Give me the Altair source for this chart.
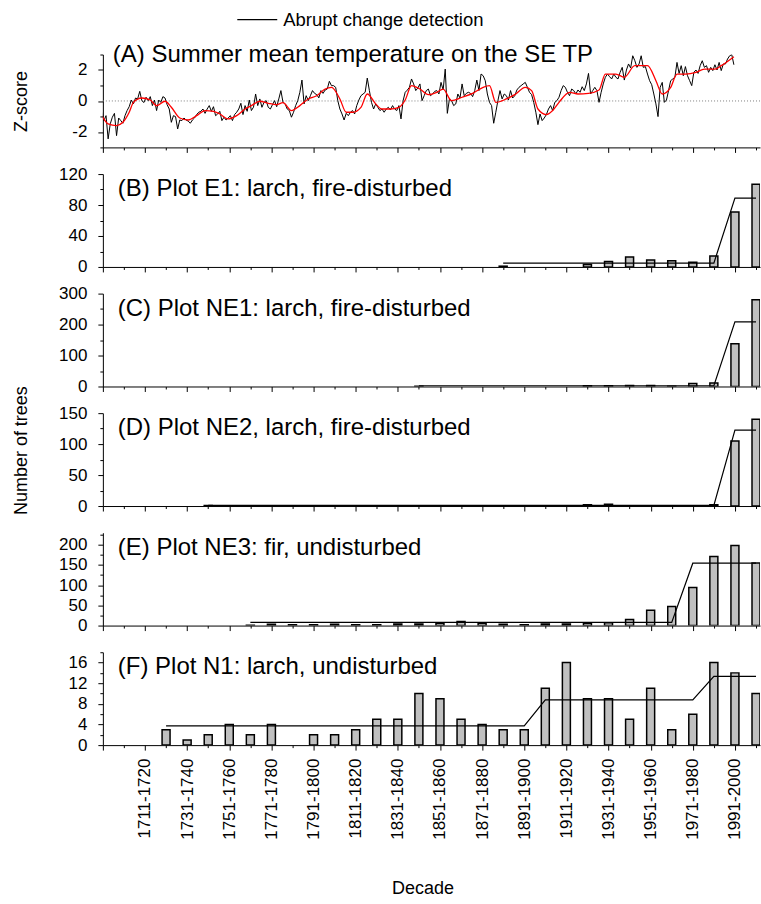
import json
import altair as alt
import pandas as pd

FONT = "Liberation Sans"
W, H = 658, 93
GAP = 26.7

# ---------------- categories / tick labels ----------------
axis_decades = ["1691-1700", "1701-1710"]  # empty decades at the left of the axis
decades = ["1711-1720", "1721-1730", "1731-1740", "1741-1750", "1751-1760",
           "1761-1770", "1771-1780", "1781-1790", "1791-1800", "1801-1810",
           "1811-1820", "1821-1830", "1831-1840", "1841-1850", "1851-1860",
           "1861-1870", "1871-1880", "1881-1890", "1891-1900", "1901-1910",
           "1911-1920", "1921-1930", "1931-1940", "1941-1950", "1951-1960",
           "1961-1970", "1971-1980", "1981-1990", "1991-2000", "2001-2010"]
tick_labels = ["1711-1720", "1731-1740", "1751-1760", "1771-1780", "1791-1800",
               "1811-1820", "1831-1840", "1851-1860", "1871-1880", "1891-1900",
               "1911-1920", "1931-1940", "1951-1960", "1971-1980", "1991-2000"]

# ---------------- panel A: summer temperature z-scores ----------------
temp_start_year = 1695
temp_z = [
    -0.73, -1.27, -0.95, -2.45, -1.48, -1.05, -0.80, -2.24, -1.10, -1.27,
    -1.44, -0.95, -0.62, -0.37, 0.06, -0.19, 0.19, 0.13, 0.62, 0.02, -0.10,
    0.24, 0.02, 0.28, -0.30, 0.06, -0.62, 0.06, -0.09, 0.28, 0.19,
    -0.24, -0.52, -1.38, -0.95, -1.01, -1.81, -1.23, -1.27, -1.10, -1.23, -1.30,
    -1.44, -1.23, -1.10, -0.88, -0.73, -0.67, -0.52, -0.80, -0.52, -0.30,
    -0.67, -0.37, -0.95, -0.84, -0.67, -1.27, -1.05, -1.23, -1.10, -0.95,
    -1.27, -0.88, -0.73, -0.52, -0.15, -0.88, -0.30, -0.67, 0.06, -0.62, -0.40,
    0.45, -0.30, 0.13, -0.41, -0.09, 0.02, -0.41, -0.52, -0.24, 0.02,
    -0.37, 0.13, 0.67, -0.09, -0.19, -0.52, -0.62, -1.05, -0.73, -0.30,
    0.02, 0.56, 1.35, -0.19, 0.34, 0.02, 0.34, 0.67, 0.49, 0.41, 0.20,
    0.67, 0.49, 0.71, 0.77, 1.27, 0.99, 0.99, 0.88, 0.02, -0.52,
    -0.84, -1.23, -0.80, -0.95, -0.73, -0.62, -0.84, -0.30, 0.06, 0.34, 0.45,
    0.56, 1.48, 0.67, -0.09, -0.52, -0.19, -0.41, -0.62, -0.52, -0.73,
    -0.52, -0.41, -0.58, -0.30, -0.52, -0.62, -0.30, -1.16, 0.02, 0.56, 0.70,
    0.88, 1.42, 1.10, 0.67, 0.84, 1.10, 0.02, 0.34, 0.67, 0.77,
    0.34, 0.45, 0.62, 0.67,
    0.45, 1.20, 0.71, 2.06, -0.80, 0.13, 0.02, -0.30, -0.19, 0.45,
    0.19, 1.10, 0.34, 0.49, 0.56, 0.49, 0.28, 0.67, 1.35,
    0.67, 1.74, 1.63, 1.31, 0.45, -0.09, -0.30, -1.44, -0.73, 0.02,
    0.67, 0.13, 0.45, 0.34, 0.06, 0.67, 0.19, 0.34, 0.71, 0.88,
    0.99, 1.10, 1.20, 0.88, 0.56, 0.41, -0.09, -0.73, -1.53, -0.84,
    -1.27, -1.10, -0.88, -0.52, -0.30, -0.62, -0.09, 0.02, 0.24, 0.67,
    0.99, 0.88, 0.56, 0.34, 0.77, 0.67, 0.45, 0.71, 0.56,
    0.92, 0.67, 1.10, 1.78, 0.45, 0.67, 0.88, 0.67, -0.09, 0.56,
    1.10, 1.53, 1.74, 1.57, 1.42, 1.74, 1.53, 1.42, 1.85, 2.17,
    1.35, 2.00, 2.39, 2.13, 2.92, 2.60, 2.17, 2.39, 2.92, 2.17,
    2.22, 1.74, 1.31, 1.05, 0.45, -0.19, -1.01, 0.88, 1.20, -0.09,
    0.06, 0.67, 1.31, 1.42, 1.53, 2.49, 1.78, 2.28, 1.63, 2.22,
    1.63, 1.31, 0.99, 1.85, 2.00, 1.78, 2.28, 2.60, 2.17, 2.28,
    1.85, 2.17, 1.96, 2.34, 2.00, 2.49, 1.96, 2.39, 2.39, 2.71,
    2.92, 2.99, 2.34,
]
smooth_years = [1695, 1698, 1702, 1705, 1708, 1710, 1714, 1718, 1721, 1725, 1728,
                1732, 1736, 1740, 1744, 1748, 1751, 1755, 1759, 1763, 1766, 1770,
                1774, 1778, 1781, 1785, 1789, 1793, 1797, 1801, 1804, 1808, 1811,
                1814, 1818, 1821, 1825, 1828, 1832, 1836, 1839, 1842, 1846, 1850,
                1854, 1857, 1861, 1866, 1871, 1876, 1879, 1882, 1887, 1891, 1896,
                1899, 1902, 1906, 1909, 1912, 1917, 1921, 1926, 1931, 1934, 1939,
                1943, 1948, 1954, 1958, 1961, 1965, 1968, 1972, 1977, 1981, 1986,
                1989, 1995]
smooth_z = [-0.95, -1.48, -1.59, -1.38, -0.73, -0.09, 0.19, 0.06, -0.30, -0.02, -0.41,
            -1.10, -1.23, -0.95, -0.62, -0.67, -0.84, -1.16, -0.95, -0.52, -0.30, -0.02,
            -0.15, -0.24, -0.11, -0.62, -0.30, 0.13, 0.34, 0.77, 0.88, 0.13, -0.73,
            -0.73, -0.41, 0.45, -0.19, -0.52, -0.52, -0.41, 0.06, 0.99, 0.77, 0.41,
            0.56, 0.77, 0.02, 0.24, 0.49, 0.88, 0.99, -0.09, 0.13, 0.41, 0.88,
            0.67, -0.52, -0.88, -0.62, -0.09, 0.56, 0.45, 0.49, 0.71, 1.74, 1.74,
            1.53, 2.28, 2.28, 1.31, 0.45, 0.88, 1.74, 1.74, 1.85, 2.06, 2.06,
            2.28, 2.86]

# ---------------- panels B-F: number of trees per decade ----------------
trees_E1 = [0] * 17 + [1, 0, 0, 0, 3, 7, 13, 9, 8, 6, 14, 71, 107]
trees_NE1 = [0] * 13 + [1, 0, 0, 0, 0, 0, 0, 0, 2, 2, 3, 3, 1, 10, 11, 138, 280]
trees_NE2 = [0, 0, 0, 1] + [0] * 17 + [2, 3, 0, 0, 0, 0, 2, 105, 140]
trees_NE3 = [0, 0, 0, 0, 0, 1, 3, 2, 2, 3, 2, 2, 4, 4, 6, 10, 6, 3, 2, 4,
             4, 6, 7, 15, 38, 47, 94, 171, 198, 155]
trees_N1 = [0, 3, 1, 2, 4, 2, 4, 0, 2, 2, 3, 5, 5, 10, 9, 5, 4, 3, 3, 11,
            16, 9, 9, 5, 11, 3, 6, 16, 14, 10]

# abrupt change detection: (first decade, last decade, segment mean)
seg_E1 = [("1881-1890", "1981-1990", 5.0), ("1991-2000", "2001-2010", 89.0)]
seg_NE1 = [("1841-1850", "1981-1990", 2.4), ("1991-2000", "2001-2010", 209.0)]
seg_NE2 = [("1741-1750", "1981-1990", 1.0), ("1991-2000", "2001-2010", 122.5)]
seg_NE3 = [("1761-1770", "1961-1970", 8.0), ("1971-1980", "2001-2010", 154.5)]
seg_N1 = [("1721-1730", "1891-1900", 3.72), ("1901-1910", "1971-1980", 8.75),
          ("1981-1990", "2001-2010", 13.33)]

yvals_E1 = [0, 20, 40, 60, 80, 100, 120]
yvals_NE1 = [0, 50, 100, 150, 200, 250, 300]
yvals_NE2 = [0, 25, 50, 75, 100, 125, 150]
yvals_NE3 = [0, 25, 50, 75, 100, 125, 150, 175, 200, 225]
yvals_N1 = [0, 2, 4, 6, 8, 10, 12, 14, 16, 18]
zvals = [-3, -2, -1, 0, 1, 2, 3]

titles = ["(A) Summer mean temperature on the SE TP",
          "(B) Plot E1: larch, fire-disturbed",
          "(C) Plot NE1: larch, fire-disturbed",
          "(D) Plot NE2, larch, fire-disturbed",
          "(E) Plot NE3: fir, undisturbed",
          "(F) Plot N1: larch, undisturbed"]
legend_label = "Abrupt change detection"


def mid(label):
    a, b = label.split("-")
    return (int(a) + int(b)) / 2


all_ticks = [mid(d) for d in axis_decades + decades]
lab_vals = [mid(d) for d in tick_labels]
X_DOMAIN = [all_ticks[0], 2007.4]
xscale = alt.Scale(domain=X_DOMAIN, nice=False, zero=False, padding=0)

is_labeled = f"indexof({json.dumps(lab_vals)}, datum.value) >= 0"
long_test = f"indexof({json.dumps(lab_vals + [all_ticks[0]])}, datum.value) >= 0"
label_expr = (f"{is_labeled} ? "
              f"{json.dumps(tick_labels)}[indexof({json.dumps(lab_vals)}, datum.value)] : ''")


def x_axis(labels):
    kw = dict(values=all_ticks, grid=False, labelOverlap=False, labelFlush=False,
              tickSize={"condition": {"test": long_test, "value": 5}, "value": 2.5})
    if labels:
        return alt.Axis(labels=True, labelExpr=label_expr, labelAngle=270,
                        labelPadding=8,
                        labelFontSize={"condition": {"test": is_labeled, "value": 17},
                                       "value": 0},
                        title="Decade", titlePadding=40, titleX=320, **kw)
    return alt.Axis(labels=False, title=None, **kw)


def y_axis(vals, step, title=None, title_y=None):
    test = f"datum.value % {step} == 0"
    kw = dict(values=vals, grid=False, labelOverlap=False, labelFlush=False,
              labelExpr=f"{test} ? '' + datum.value : ''",
              labelFontSize={"condition": {"test": test, "value": 17}, "value": 0},
              tickSize={"condition": {"test": test, "value": 5}, "value": 3},
              labelPadding=11)
    if title:
        kw.update(title=title, titleX=-72)
        if title_y is not None:
            kw["titleY"] = title_y
    else:
        kw["title"] = None
    return alt.Axis(**kw)


def title_layer(text, dx, dy):
    return alt.Chart(pd.DataFrame({"t": [text]})).mark_text(
        align="left", baseline="middle", fontSize=24, font=FONT, color="black"
    ).encode(text="t:N", x=alt.value(dx), y=alt.value(dy))


# ---- panel A
temp_df = pd.DataFrame({"year": list(range(temp_start_year, temp_start_year + len(temp_z))),
                        "z": temp_z})
smooth_df = pd.DataFrame({"year": smooth_years, "z": smooth_z})
zero_df = pd.DataFrame({"z": [0]})

yA = alt.Y("z:Q", scale=alt.Scale(domain=[-3, 3], nice=False), axis=y_axis(zvals, 2, "Z-score"))
xA = alt.X("year:Q", scale=xscale, axis=x_axis(False))
panelA = alt.layer(
    alt.Chart(zero_df).mark_rule(color="#808080", strokeDash=[1, 2], strokeWidth=1).encode(y=yA),
    alt.Chart(temp_df).mark_line(color="black", strokeWidth=1, clip=True).encode(x=xA, y=yA),
    alt.Chart(smooth_df).mark_line(color="#ff0000", strokeWidth=1.3, interpolate="monotone",
                                   clip=True).encode(x=xA, y=yA),
    title_layer(titles[0], 10, 0),
).properties(width=W, height=H)


def bar_panel(vals, segs, ydom, yvals, ystep, title, ytitle=None, title_y=None,
              legend=False, show_x=False):
    bdf = pd.DataFrame({"decade": decades, "mid": [mid(d) for d in decades], "n": vals})
    bdf = bdf[bdf.n > 0]
    rows = []
    for first, last, level in segs:
        i0, i1 = decades.index(first), decades.index(last)
        for d in decades[i0:i1 + 1]:
            rows.append({"decade": d, "mid": mid(d), "n": level, "series": legend_label})
    sdf = pd.DataFrame(rows)
    x = alt.X("mid:Q", scale=xscale, axis=x_axis(show_x))
    y = alt.Y("n:Q", scale=alt.Scale(domain=ydom, nice=False),
              axis=y_axis(yvals, ystep, ytitle, title_y))
    bars = alt.Chart(bdf).mark_bar(size=8, color="#c0c0c0", stroke="black",
                                   strokeWidth=1.5, clip=True).encode(x=x, y=y)
    if legend:
        line = alt.Chart(sdf).mark_line(strokeWidth=1.2, clip=True).encode(
            x=x, y=y,
            color=alt.Color("series:N", scale=alt.Scale(range=["black"]),
                            legend=alt.Legend(title=None, orient="none", legendX=143.6,
                                              legendY=-165.7, symbolType="M-2,0H2",
                                              symbolSize=400, symbolStrokeWidth=1.2,
                                              labelFontSize=18.5, labelFont=FONT,
                                              labelLimit=0, labelOffset=15,
                                              labelColor="black")))
    else:
        line = alt.Chart(sdf).mark_line(color="black", strokeWidth=1.2, clip=True).encode(x=x, y=y)
    return alt.layer(bars, line, title_layer(title, 15, 15)).properties(width=W, height=H)


panelB = bar_panel(trees_E1, seg_E1, [0, 120], yvals_E1, 40, titles[1], legend=True)
panelC = bar_panel(trees_NE1, seg_NE1, [0, 300], yvals_NE1, 100, titles[2])
panelD = bar_panel(trees_NE2, seg_NE2, [0, 150], yvals_NE2, 50, titles[3],
                   ytitle="Number of trees", title_y=37)
panelE = bar_panel(trees_NE3, seg_NE3, [0, 230], yvals_NE3, 50, titles[4])
panelF = bar_panel(trees_N1, seg_N1, [0, 18], yvals_N1, 4, titles[5], show_x=True)

chart = alt.vconcat(panelA, panelB, panelC, panelD, panelE, panelF, spacing=GAP,
                    bounds="flush").resolve_scale(
    x="independent", y="independent", color="independent"
).properties(
    padding={"left": 13, "top": 8, "right": 0, "bottom": 5},
    background="white",
).configure_view(stroke=None).configure_axis(
    domainColor="black", tickColor="black", labelColor="black", titleColor="black",
    labelFont=FONT, titleFont=FONT, labelFontSize=17, titleFontSize=18,
    titleFontWeight="normal", domainWidth=1, tickWidth=1,
).configure_legend(labelFont=FONT, labelFontSize=18.5, labelColor="black")

chart.save("out.html", embed_options={"renderer": "svg", "actions": False})
